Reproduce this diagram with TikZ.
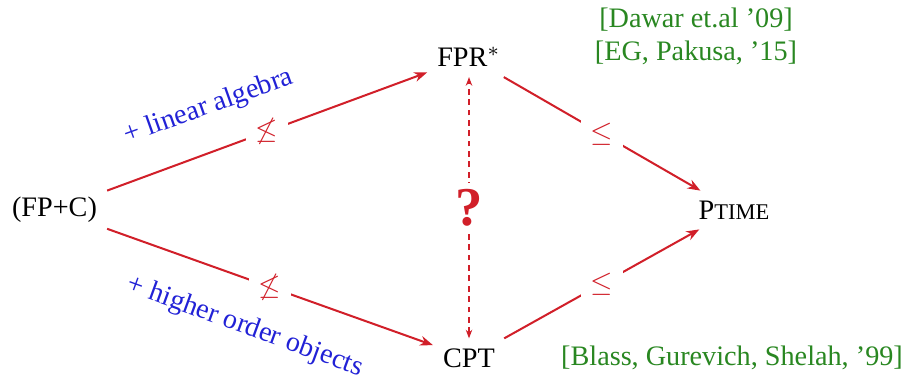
\documentclass[tikz,border=0pt]{standalone}
\usepackage{fontspec}
\setmainfont{Liberation Serif}
\usetikzlibrary{arrows.meta}
\definecolor{c0}{rgb}{0.82,0.12,0.16}
\definecolor{c1}{rgb}{0.16,0.53,0.13}
\definecolor{c2}{rgb}{0.13,0.13,0.84}
\tikzset{%
  cls/.style={font=\fontsize{9.8}{12}\selectfont},
  cite/.style={cls,text=c1},
  ext/.style={cls,text=c2,inner sep=0.5pt},
  rel/.style={fill=white,text=c0,font=\fontsize{9.8}{12}\selectfont},
  incl/.style={draw=c0,line width=0.7pt,-{Stealth[length=4.5pt]}},
  open/.style={draw=c0,thin,dash pattern=on 2pt off 1.6pt,{Stealth[length=3pt]}-{Stealth[length=3pt]}}
}
\NewDocumentCommand\ptime{}{P{\fontsize{7.8}{10}\selectfont TIME}}

\begin{document}
\begin{tikzpicture}[x=0.0122cm,y=0.0122cm]
  \useasboundingbox (0,0) rectangle (904,378);
  %% logics
  \node[cls] (fpc) at (54.5,168) {(FP+C)};
  \node[cls] (fpr) at (469,321) {FPR$^*$};
  \node[cls] (cpt) at (469,20) {CPT};
  \node[cls] (ptm) at (734,168) {\ptime};
  %% references
  \node[cite] (dawar) at (696,358) {[Dawar et.al ’09]};
  \node[cite] (pakusa) at (696,325) {[EG, Pakusa, ’15]};
  \node[cite] (blass) at (732,20) {[Blass, Gurevich, Shelah, ’99]};
  %% extensions
  \node[ext,rotate=19.6] (lin) at (209,271) {+ linear algebra};
  \node[ext,rotate=-20] (hig) at (245,51) {+ higher order objects};
  %%
  \draw[incl] (fpc) -- node[rel] (n0) {$\not\leq$} (fpr);
  \draw[incl] (fpc) -- node[rel] (n1) {$\not\leq$} (cpt);
  \draw[incl] (fpr) -- node[rel] (n2) {$\leq$} (ptm);
  \draw[incl] (cpt) -- node[rel] (n3) {$\leq$} (ptm);
  \draw[open] (cpt) -- node[fill=white,inner sep=2pt,text=c0,font=\bfseries\fontsize{19}{22}\selectfont] (q) {?} (fpr);
\end{tikzpicture}
\end{document}
